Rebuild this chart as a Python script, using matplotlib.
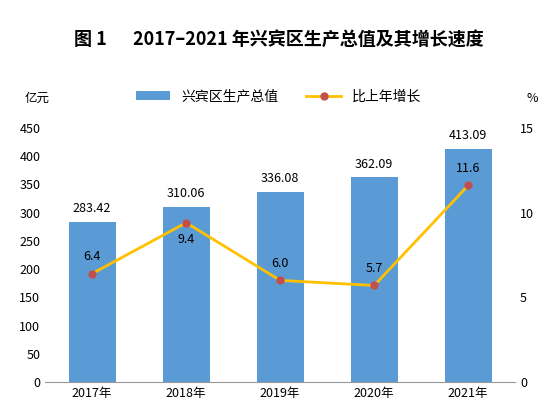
import matplotlib
matplotlib.use("Agg")
import matplotlib.pyplot as plt

plt.rcParams['font.family'] = ['Noto Sans CJK SC', 'DejaVu Sans']

years = ['2017年', '2018年', '2019年', '2020年', '2021年']
gdp = [283.42, 310.06, 336.08, 362.09, 413.09]
growth = [6.4, 9.4, 6.0, 5.7, 11.6]
growth_labels = ['6.4', '9.4', '6.0', '5.7', '11.6']
label_above = [True, False, True, True, True]

fig = plt.figure(figsize=(5.57, 4.19), dpi=100)
ax = fig.add_axes([0.081, 0.088, 0.844, 0.607])
x = range(len(years))
ax.bar(x, gdp, width=0.5, color='#5B9BD5', label='兴宾区生产总值', zorder=2)
ax.set_ylim(0, 450)
ax.set_yticks(range(0, 451, 50))
ax.set_xlim(-0.5, 4.5)
ax.set_xticks(list(x))
ax.set_xticklabels(years, fontsize=9)
ax.tick_params(axis='both', labelsize=9, length=0)
for s in ['top', 'right', 'left']:
    ax.spines[s].set_visible(False)
ax.spines['bottom'].set_color('#999999')
for i, v in enumerate(gdp):
    ax.text(i, v + 12, f'{v:.2f}', ha='center', va='bottom', fontsize=9)

ax2 = ax.twinx()
ax2.plot(list(x), growth, color='#FFC000', lw=2, marker='o', ms=5,
         mfc='#C0504D', mec='#C0504D', label='比上年增长', zorder=3)
ax2.set_ylim(0, 15)
ax2.set_yticks([0, 5, 10, 15])
ax2.tick_params(axis='y', labelsize=9, length=0)
for s in ['top', 'right', 'left', 'bottom']:
    ax2.spines[s].set_visible(False)
for i, v in enumerate(growth):
    if label_above[i]:
        ax2.text(i, v + 0.6, growth_labels[i], ha='center', va='bottom', fontsize=9)
    else:
        ax2.text(i, v - 0.6, growth_labels[i], ha='center', va='top', fontsize=9)

h1, l1 = ax.get_legend_handles_labels()
h2, l2 = ax2.get_legend_handles_labels()
fig.legend(h1 + h2, l1 + l2, loc='center', bbox_to_anchor=(0.5, 0.77), ncol=2,
           frameon=False, fontsize=10, handlelength=2.5, columnspacing=2)

fig.text(0.045, 0.765, '亿元', fontsize=9, ha='left', va='center')
fig.text(0.955, 0.765, '%', fontsize=9, ha='center', va='center')
fig.text(0.5, 0.905, '图 1　  2017–2021 年兴宾区生产总值及其增长速度', fontsize=13,
         fontweight='bold', ha='center', va='center')

fig.savefig('out.png', dpi=100)
